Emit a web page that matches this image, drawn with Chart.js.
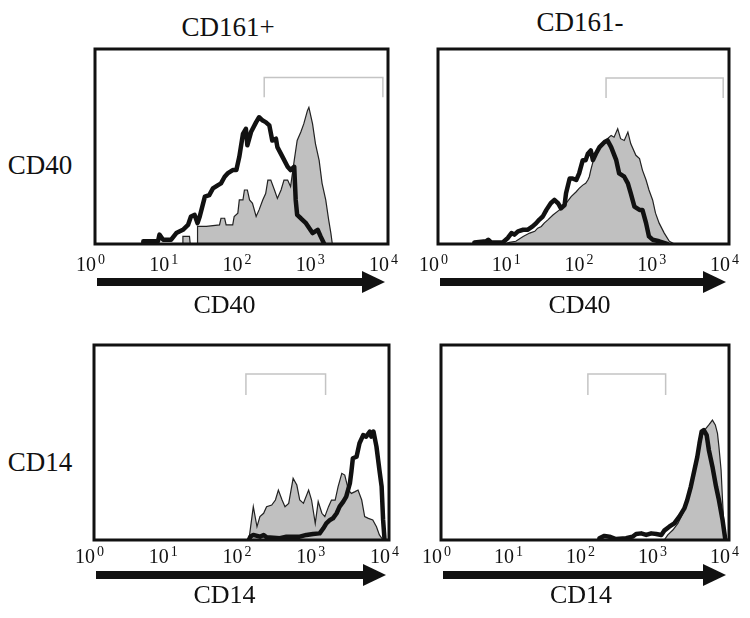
<!DOCTYPE html>
<html lang="en">
<head>
<meta charset="UTF-8">
<title>CD40 / CD14 histograms</title>
<script src="https://cdn.jsdelivr.net/npm/chart.js"></script>
<style>
  body { margin: 0; background: #fff; width: 750px; height: 618px; position: relative; overflow: hidden;
         font-family: "Liberation Serif", "DejaVu Serif", serif; color: #111; }
  canvas { position: absolute; }
  .lbl { position: absolute; font-size: 27px; white-space: nowrap; transform: translate(-50%, -50%); }
</style>
</head>
<body>
<div class="lbl" id="col0" style="left:228px;top:27px"></div>
<div class="lbl" id="col1" style="left:580px;top:22px"></div>
<div class="lbl" id="row0" style="left:40px;top:165px"></div>
<div class="lbl" id="row1" style="left:40px;top:462px"></div>
<canvas id="tl"></canvas>
<canvas id="tr"></canvas>
<canvas id="bl"></canvas>
<canvas id="br"></canvas>
<script>
// x = log10 of fluorescence, y = % of panel height
const decades = [0, 1, 2, 3, 4];
const columnTitles = ['CD161+', 'CD161-'];
const rowTitles = ['CD40', 'CD14'];

const cd40PosLine = [[0.66,0],[0.66,1.4],[0.86,1.4],[0.88,4.8],[0.93,2.2],[1.04,2.2],[1.11,5.6],[1.20,7.3],[1.27,9.8],[1.31,14.1],[1.36,14.9],[1.40,10.7],[1.43,14.1],[1.50,24.3],[1.56,25.1],[1.61,28.5],[1.68,30.2],[1.72,31.1],[1.77,34.5],[1.81,36.2],[1.88,37.9],[1.93,37.9],[1.97,44.7],[2.02,56.5],[2.06,59.1],[2.08,50.6],[2.13,57.4],[2.20,62.5],[2.24,65.0],[2.29,63.3],[2.33,62.5],[2.38,60.8],[2.42,53.1],[2.47,54.0],[2.49,49.7],[2.56,44.7],[2.63,39.6],[2.67,37.9],[2.72,39.6],[2.74,22.6],[2.76,14.9],[2.81,13.2],[2.88,10.7],[2.97,5.6],[3.04,7.3],[3.08,3.9],[3.13,0]];
const cd40PosFill = [[1.20,0],[1.20,3.9],[1.29,3.9],[1.30,0],[1.40,0],[1.40,9.0],[1.52,9.0],[1.70,9.8],[1.72,13.2],[1.77,13.2],[1.79,9.8],[1.88,9.8],[1.90,14.1],[1.95,15.8],[1.97,22.6],[2.02,22.6],[2.04,27.7],[2.08,27.7],[2.11,22.6],[2.15,20.9],[2.20,14.1],[2.24,17.5],[2.29,22.6],[2.33,25.9],[2.36,32.8],[2.40,32.8],[2.45,27.7],[2.49,23.4],[2.54,27.7],[2.58,32.8],[2.63,32.8],[2.67,29.4],[2.72,42.9],[2.76,53.1],[2.81,57.4],[2.85,61.6],[2.90,68.4],[2.92,70.1],[2.97,61.6],[3.01,51.4],[3.06,42.9],[3.10,31.1],[3.15,22.6],[3.19,12.4],[3.22,5.6],[3.24,0]];
const cd40PosGate = [[2.31,75.2],[2.31,85.4],[3.93,85.4],[3.93,75.2]];

const cd40NegLine = [[0.50,0],[0.50,0.8],[0.66,1.4],[0.69,2.2],[0.73,0.8],[0.89,0.8],[0.96,3.1],[1.01,5.6],[1.05,4.8],[1.10,6.5],[1.17,7.3],[1.23,7.3],[1.30,9.0],[1.35,10.7],[1.39,12.4],[1.44,14.1],[1.49,17.5],[1.55,20.9],[1.60,22.6],[1.65,20.9],[1.69,18.3],[1.74,20.0],[1.76,26.0],[1.81,33.6],[1.85,33.6],[1.90,32.8],[1.94,36.2],[1.99,43.0],[2.03,43.0],[2.06,46.3],[2.10,48.0],[2.13,43.0],[2.17,46.3],[2.22,49.7],[2.29,52.3],[2.33,53.1],[2.38,49.7],[2.45,43.0],[2.49,36.2],[2.56,34.5],[2.61,31.1],[2.65,26.0],[2.70,19.2],[2.77,17.5],[2.81,17.5],[2.86,10.7],[2.90,3.9],[2.95,2.2],[3.04,1.4],[3.15,0]];
const cd40NegFill = [[0.91,0],[0.98,0.8],[1.07,1.4],[1.17,3.9],[1.26,5.6],[1.33,6.5],[1.37,8.1],[1.42,9.0],[1.46,10.7],[1.51,12.4],[1.58,14.9],[1.67,17.5],[1.76,20.9],[1.83,24.3],[1.90,26.8],[1.94,28.5],[1.99,30.2],[2.03,31.1],[2.06,32.8],[2.08,34.5],[2.10,37.9],[2.13,42.1],[2.15,44.7],[2.19,48.0],[2.24,50.6],[2.29,52.3],[2.33,54.0],[2.38,55.7],[2.42,54.8],[2.47,59.1],[2.51,54.0],[2.56,53.1],[2.61,57.4],[2.65,51.4],[2.72,45.5],[2.77,43.8],[2.81,37.9],[2.86,32.8],[2.90,27.7],[2.95,22.6],[2.99,15.8],[3.04,10.7],[3.11,5.6],[3.18,1.4],[3.25,0]];
const cd40NegGate = [[2.31,74.9],[2.31,85.1],[3.92,85.1],[3.92,74.9]];

const cd14PosLine = [[2.10,0],[2.12,1.7],[2.16,2.6],[2.25,1.7],[2.30,2.6],[2.34,1.4],[2.52,0.9],[2.61,1.7],[2.70,1.7],[2.79,1.7],[2.88,2.6],[2.97,3.1],[3.06,3.4],[3.11,6.0],[3.15,8.5],[3.20,10.3],[3.24,11.1],[3.29,13.7],[3.33,17.1],[3.38,19.7],[3.42,22.2],[3.47,29.1],[3.49,35.0],[3.51,41.9],[3.56,42.7],[3.60,49.6],[3.65,53.8],[3.69,53.0],[3.74,55.6],[3.76,53.0],[3.79,55.6],[3.83,47.9],[3.87,35.9],[3.90,27.4],[3.92,10.3],[3.94,0]];
const cd14PosFill = [[2.10,0],[2.16,17.1],[2.21,6.8],[2.25,12.0],[2.30,13.7],[2.34,17.1],[2.41,17.9],[2.46,20.5],[2.50,25.6],[2.55,20.5],[2.59,17.1],[2.64,18.8],[2.70,31.6],[2.75,28.2],[2.79,20.5],[2.84,18.8],[2.91,25.6],[2.95,20.5],[3.00,8.5],[3.04,19.7],[3.09,13.7],[3.13,12.0],[3.18,17.1],[3.22,20.5],[3.27,20.5],[3.31,27.4],[3.36,34.2],[3.40,33.3],[3.45,25.6],[3.49,23.9],[3.54,24.8],[3.58,25.6],[3.63,20.5],[3.67,12.0],[3.72,11.1],[3.78,10.3],[3.83,6.8],[3.87,2.6],[3.92,0]];
const cd14PosGate = [[2.06,74.4],[2.06,85.1],[3.14,85.1],[3.14,74.4]];

const cd14NegLine = [[2.20,0],[2.20,0.9],[2.27,2.1],[2.34,1.7],[2.43,0.5],[2.57,0.9],[2.66,1.7],[2.71,3.1],[2.78,3.4],[2.85,2.6],[2.92,3.4],[2.99,3.1],[3.06,2.6],[3.10,4.8],[3.17,6.8],[3.24,8.5],[3.31,12.0],[3.38,16.2],[3.42,20.5],[3.47,27.4],[3.52,35.9],[3.56,42.7],[3.59,49.6],[3.62,55.6],[3.65,56.4],[3.69,53.8],[3.72,46.2],[3.77,37.6],[3.82,27.4],[3.86,20.5],[3.91,10.3],[3.95,0]];
const cd14NegFill = [[3.10,0],[3.15,2.6],[3.22,5.1],[3.29,8.5],[3.36,13.7],[3.40,18.8],[3.45,23.9],[3.49,29.1],[3.54,37.6],[3.59,47.9],[3.63,53.8],[3.68,57.3],[3.72,59.0],[3.77,61.5],[3.81,59.0],[3.84,54.7],[3.86,47.9],[3.89,35.9],[3.91,20.5],[3.93,6.8],[3.95,0]];
const cd14NegGate = [[2.04,74.4],[2.04,85.1],[3.12,85.1],[3.12,74.4]];

const toXY = pts => pts.map(p => ({ x: Math.pow(10, p[0]), y: p[1] }));

document.getElementById('col0').textContent = columnTitles[0];
document.getElementById('col1').textContent = columnTitles[1];
document.getElementById('row0').textContent = rowTitles[0];
document.getElementById('row1').textContent = rowTitles[1];

// frame, decade labels, arrow and axis name under each histogram
const panelDeco = {
  id: 'panelDeco',
  afterDatasetsDraw(chart, args, o) {
    const { ctx, chartArea: a, scales: { x } } = chart;
    ctx.save();
    ctx.strokeStyle = '#111';
    ctx.lineWidth = 3;
    ctx.strokeRect(a.left, a.top, a.right - a.left, a.bottom - a.top);

    ctx.fillStyle = '#111';
    ctx.textBaseline = 'alphabetic';
    ctx.textAlign = 'left';
    decades.forEach(k => {
      const px = x.getPixelForValue(Math.pow(10, k));
      ctx.font = '20px "Liberation Serif"';
      ctx.fillText('10', px - 19, a.bottom + o.tickDy);
      const w = ctx.measureText('10').width;
      ctx.font = '14px "Liberation Serif"';
      ctx.fillText(String(k), px - 19 + w + 2, a.bottom + o.tickDy - 7);
    });

    const ay = a.bottom + o.arrowDy, x0 = a.left + 2, tip = a.right - 3, head = 23;
    ctx.fillRect(x0, ay - 4, tip - head - x0 + 1, 8);
    ctx.beginPath();
    ctx.moveTo(tip - head, ay - 11);
    ctx.lineTo(tip, ay);
    ctx.lineTo(tip - head, ay + 11);
    ctx.closePath();
    ctx.fill();

    ctx.font = '26px "Liberation Serif"';
    ctx.textAlign = 'center';
    ctx.fillText(o.title, (a.left + a.right) / 2 + o.titleDx, a.bottom + o.titleDy);
    ctx.restore();
  }
};

const panels = [
  { id: 'tl', title: rowTitles[0], line: cd40PosLine, fill: cd40PosFill, gate: cd40PosGate,
    box: { l: 95, t: 49, r: 388, b: 244 }, deco: { tickDy: 27, arrowDy: 38, titleDy: 69, titleDx: -17 } },
  { id: 'tr', title: rowTitles[0], line: cd40NegLine, fill: cd40NegFill, gate: cd40NegGate,
    box: { l: 438, t: 49, r: 729, b: 244 }, deco: { tickDy: 27, arrowDy: 38, titleDy: 69, titleDx: -4 } },
  { id: 'bl', title: rowTitles[1], line: cd14PosLine, fill: cd14PosFill, gate: cd14PosGate,
    box: { l: 94, t: 345, r: 389, b: 540 }, deco: { tickDy: 23, arrowDy: 35, titleDy: 63, titleDx: -17 } },
  { id: 'br', title: rowTitles[1], line: cd14NegLine, fill: cd14NegFill, gate: cd14NegGate,
    box: { l: 441, t: 345, r: 729, b: 540 }, deco: { tickDy: 23, arrowDy: 35, titleDy: 63, titleDx: -4 } }
];

const pad = { left: 20, right: 20, top: 10, bottom: 80 };

panels.forEach(p => {
  const cv = document.getElementById(p.id);
  cv.width = p.box.r - p.box.l + pad.left + pad.right;
  cv.height = p.box.b - p.box.t + pad.top + pad.bottom;
  cv.style.left = (p.box.l - pad.left) + 'px';
  cv.style.top = (p.box.t - pad.top) + 'px';

  new Chart(cv, {
    type: 'line',
    data: {
      datasets: [
        { data: toXY(p.line), borderColor: '#111', borderWidth: 4.5, fill: false,
          borderJoinStyle: 'round', borderCapStyle: 'round' },
        { data: toXY(p.fill), borderColor: '#222', borderWidth: 1.2, fill: 'origin',
          backgroundColor: '#c0c0c0' },
        { data: toXY(p.gate), borderColor: '#c4c4c4', borderWidth: 1.5, fill: false }
      ]
    },
    options: {
      responsive: false,
      maintainAspectRatio: false,
      animation: false,
      layout: { padding: pad },
      elements: { point: { radius: 0 }, line: { tension: 0 } },
      plugins: {
        legend: { display: false },
        tooltip: { enabled: false },
        panelDeco: Object.assign({ title: p.title }, p.deco)
      },
      scales: {
        x: { type: 'logarithmic', min: 1, max: 10000, display: false },
        y: { type: 'linear', min: 0, max: 100, display: false }
      }
    },
    plugins: [panelDeco]
  });
});
</script>
</body>
</html>
